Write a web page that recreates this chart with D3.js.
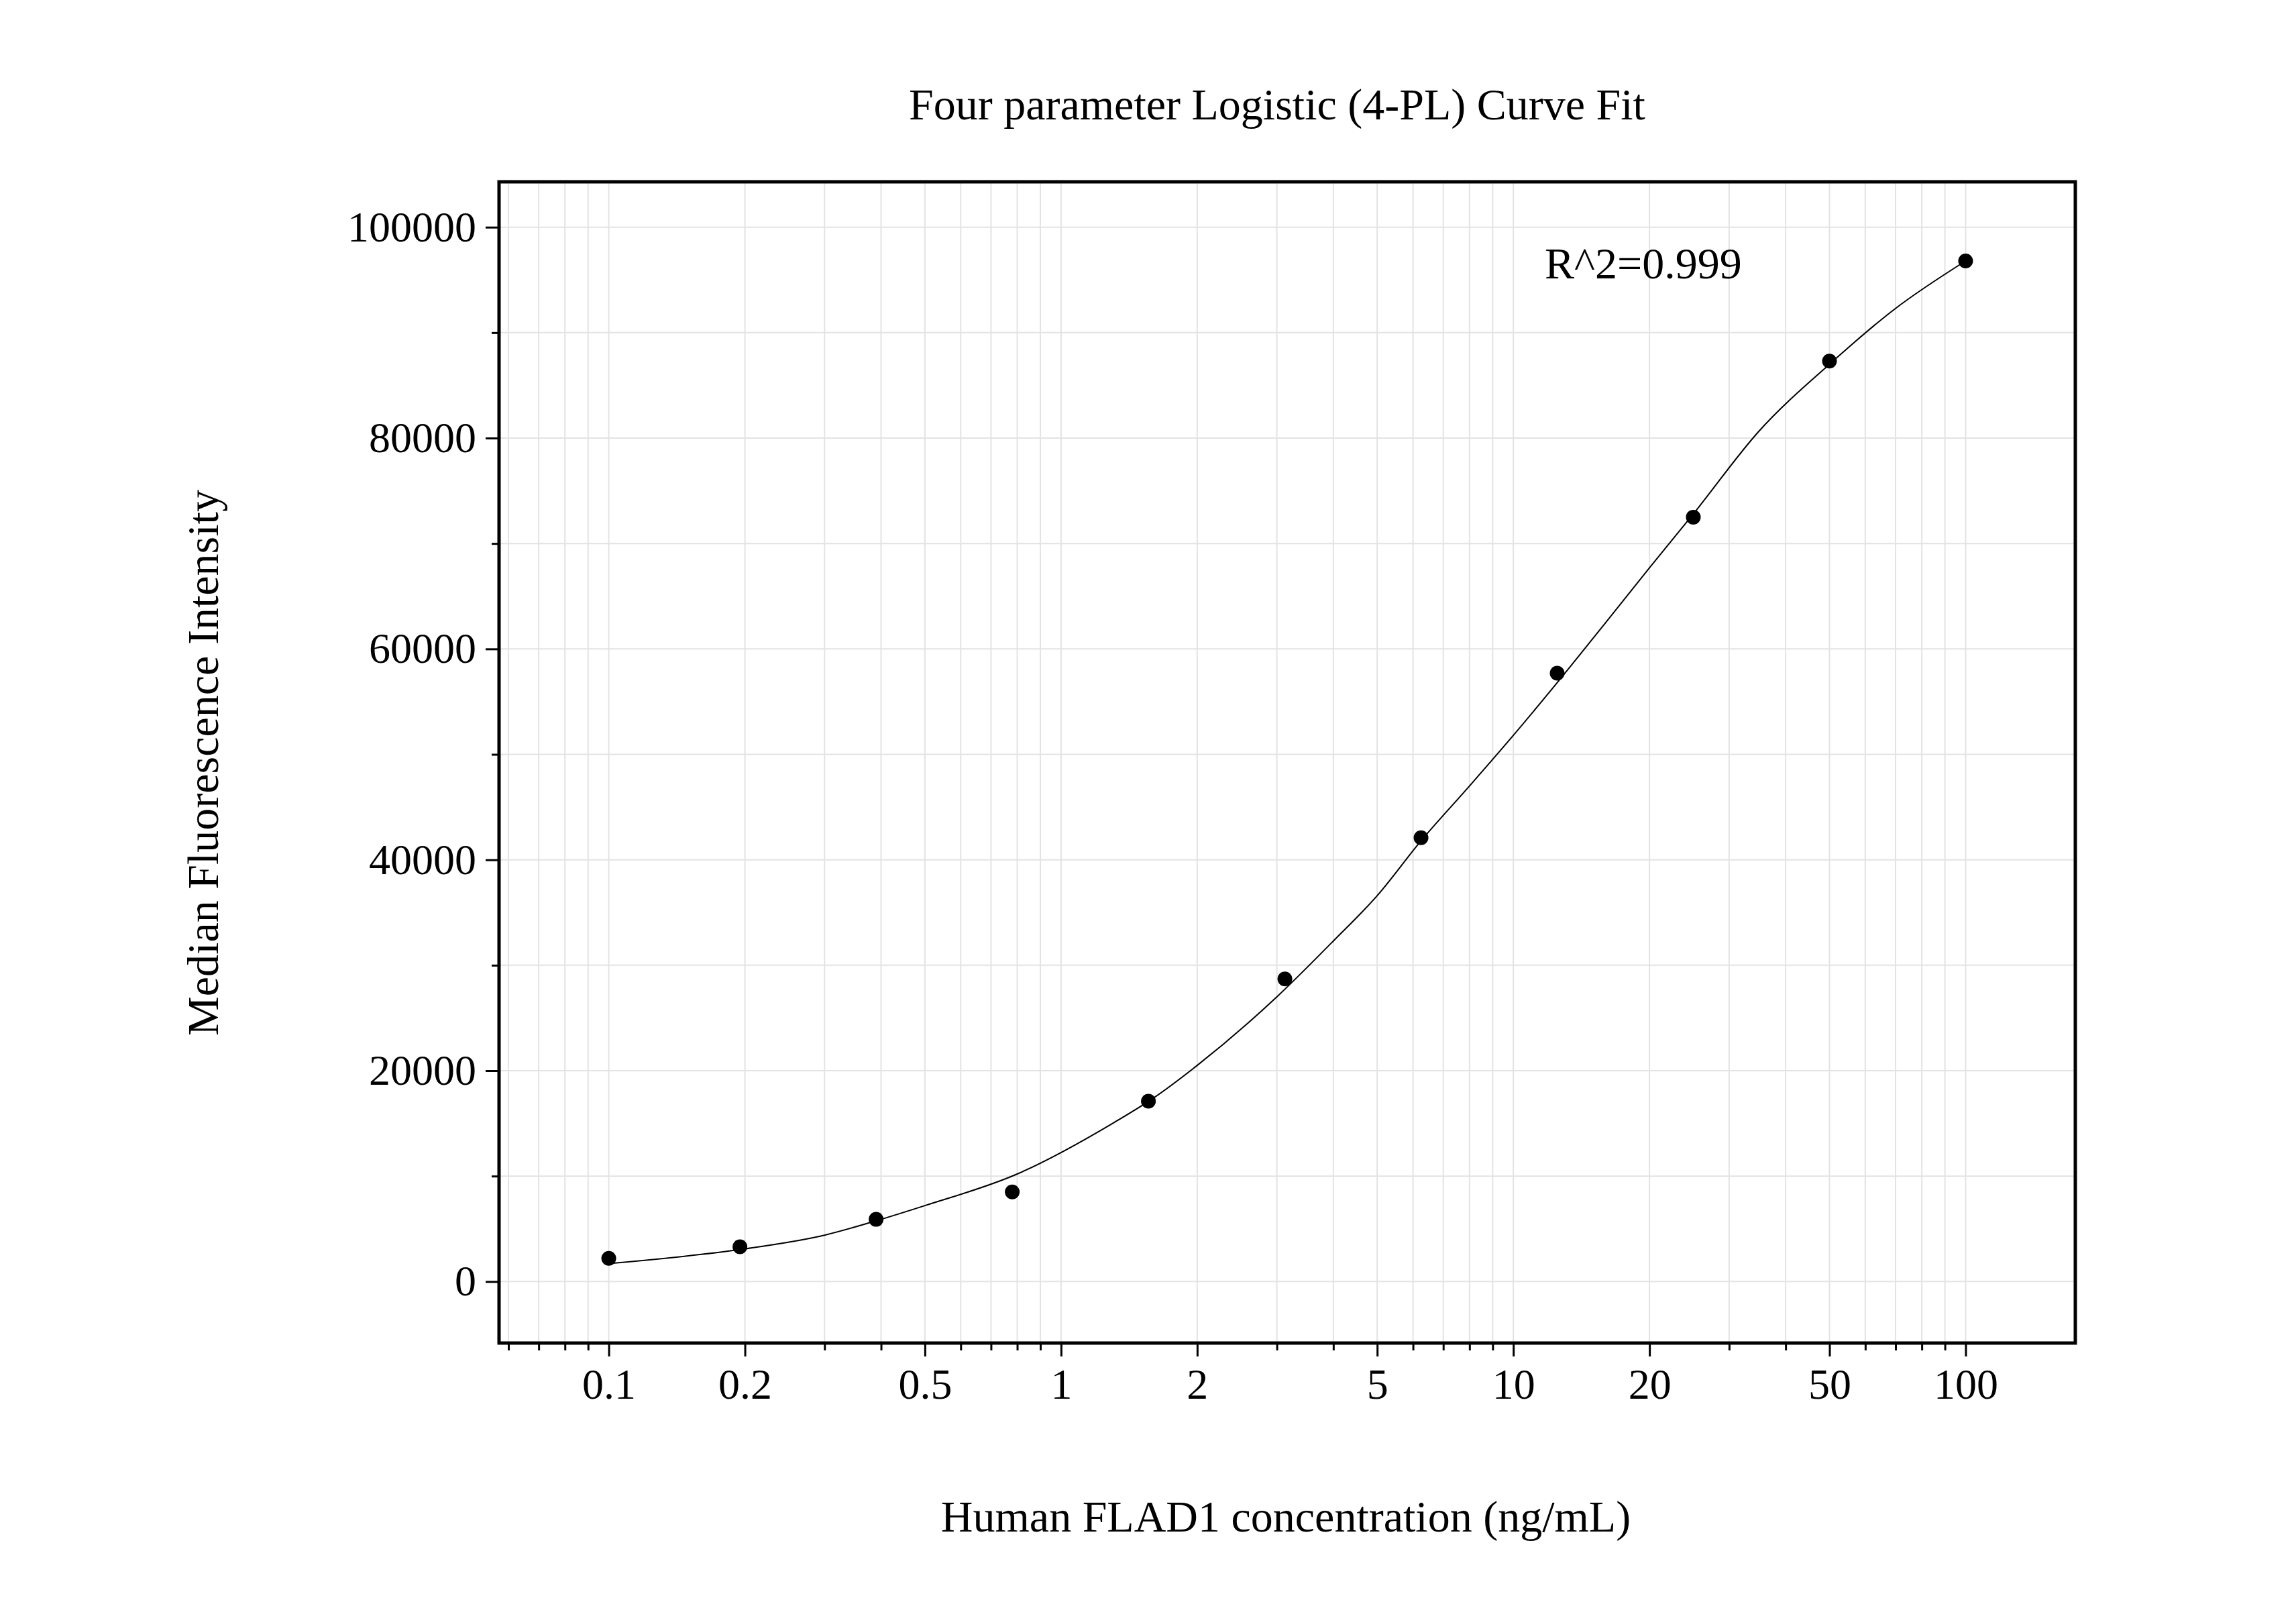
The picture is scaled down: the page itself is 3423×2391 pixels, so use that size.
<!DOCTYPE html>
<html><head><meta charset="utf-8">
<script src="https://cdn.jsdelivr.net/npm/d3@7"></script>
<style>body{margin:0;background:#fff}text{font-family:"Liberation Serif","Times New Roman",serif;fill:#000}</style>
</head><body>
<script>
// measured standards
const concentrations = [0.1, 0.195, 0.39, 0.78, 1.56, 3.125, 6.25, 12.5, 25, 50, 100];
const intensities = [2200, 3300, 5900, 8500, 17100, 28700, 42100, 57700, 72500, 87300, 96800];
// fitted curve
const curveX = [0.1, 0.2, 0.3, 0.4, 0.5, 0.8, 1.3, 1.6, 2, 3, 4, 5, 6.25, 8, 10, 12.5, 16, 20, 25, 35, 50, 70, 100];
const curveY = [1700, 3100, 4400, 5900, 7200, 10200, 15000, 17400, 20500, 27000, 32300, 36600, 41800, 47000, 51800, 56800, 62500, 67700, 72800, 80700, 87000, 92300, 96800];
const xTicks = [0.1, 0.2, 0.5, 1, 2, 5, 10, 20, 50, 100];
const yTicks = [0, 20000, 40000, 60000, 80000, 100000];

const W = 3423, H = 2391;
const m = {left: 744, right: 3094, top: 271, bottom: 2002};
const svg = d3.select("body").append("svg").attr("width", W).attr("height", H);

const x = d3.scaleLog().domain([0.0572, 174.8]).range([m.left, m.right]);
const y = d3.scaleLinear().domain([-5833, 104306]).range([m.bottom, m.top]);

// minor log ticks
let minorX = [];
for (let e = -2; e <= 2; e++) for (let k = 1; k < 10; k++) {
	let v = k * Math.pow(10, e);
	if (v >= 0.0572 && v <= 174.8) minorX.push(v);
}
const gridY = d3.range(0, 100001, 10000);

let grid = svg.append("g").attr("stroke", "#e3e3e3").attr("stroke-width", 2);
grid.selectAll(".gx").data(minorX).join("line")
	.attr("x1", d => x(d)).attr("x2", d => x(d)).attr("y1", m.top).attr("y2", m.bottom);
grid.selectAll(".gy").data(gridY).join("line")
	.attr("y1", d => y(d)).attr("y2", d => y(d)).attr("x1", m.left).attr("x2", m.right);

// axes
svg.append("g").attr("transform", `translate(0,${m.bottom})`)
	.call(d3.axisBottom(x).tickValues(xTicks).tickFormat(d3.format("~g")).tickSize(20).tickPadding(18));
svg.append("g").attr("transform", `translate(0,${m.bottom})`)
	.call(d3.axisBottom(x).tickValues(minorX.filter(v => !xTicks.includes(v))).tickFormat("").tickSize(11));
svg.append("g").attr("transform", `translate(${m.left},0)`)
	.call(d3.axisLeft(y).tickValues(yTicks).tickFormat(d3.format("d")).tickSize(20).tickPadding(14));
svg.append("g").attr("transform", `translate(${m.left},0)`)
	.call(d3.axisLeft(y).tickValues(gridY.filter(v => !yTicks.includes(v))).tickFormat("").tickSize(11));
svg.selectAll(".domain").remove();
svg.selectAll(".tick line").attr("stroke", "#000").attr("stroke-width", 3);
svg.selectAll(".tick text").attr("font-size", 64).style("font-family", "Liberation Serif");

svg.append("rect").attr("x", m.left).attr("y", m.top).attr("width", m.right - m.left).attr("height", m.bottom - m.top)
	.attr("fill", "none").attr("stroke", "#000").attr("stroke-width", 5);

// curve
svg.append("path").datum(curveX.map((v, i) => [v, curveY[i]]))
	.attr("fill", "none").attr("stroke", "#000").attr("stroke-width", 2)
	.attr("d", d3.line().x(d => x(d[0])).y(d => y(d[1])).curve(d3.curveMonotoneX));

svg.selectAll(".pt").data(concentrations).join("circle")
	.attr("cx", d => x(d)).attr("cy", (d, i) => y(intensities[i])).attr("r", 11).attr("fill", "#000");

svg.append("text").attr("x", 1904).attr("y", 178).attr("text-anchor", "middle").attr("font-size", 66)
	.text("Four parameter Logistic (4-PL) Curve Fit");
svg.append("text").attr("x", 2303).attr("y", 415).attr("font-size", 66).text("R^2=0.999");
svg.append("text").attr("x", 1917).attr("y", 2283).attr("text-anchor", "middle").attr("font-size", 66)
	.text("Human FLAD1 concentration (ng/mL)");
svg.append("text").attr("transform", "translate(325,1137) rotate(-90)").attr("text-anchor", "middle").attr("font-size", 66)
	.text("Median Fluorescence Intensity");
</script>
</body></html>
